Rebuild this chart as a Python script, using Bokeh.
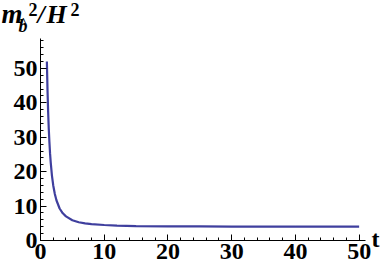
from bokeh.plotting import figure
from bokeh.models import Range1d, Label, SingleIntervalTicker
from bokeh.embed import file_html
from bokeh.resources import INLINE

# data
t = [1.0, 1.1, 1.2, 1.3, 1.4, 1.5, 1.6, 1.8, 2.0, 2.25, 2.5, 3.0, 3.5, 4.0, 5.0,
     6.0, 7.0, 8.0, 10.0, 12.0, 15.0, 20.0, 25.0, 30.0, 40.0, 50.0]
m2 = [52.0, 43.7, 37.3, 32.4, 28.5, 25.3, 22.8, 18.8, 16.0, 13.5, 11.7, 9.3, 7.9, 7.0, 5.9,
      5.3, 5.0, 4.75, 4.5, 4.35, 4.2, 4.1, 4.08, 4.05, 4.03, 4.02]

X_MAX = 51.0
Y_MAX = 58.7

# axis geometry (page pixels)
FL, FR, FT, FB = 40, 365, 38, 240
W, H = 381, 269

def dx(px):
    return (px - FL) / (FR - FL) * X_MAX

def dy(py):
    return (FB - py) / (FB - FT) * Y_MAX

p = figure(width=W, height=H, output_backend="svg", toolbar_location=None,
           x_range=Range1d(dx(0), dx(W)), y_range=Range1d(dy(H), dy(0)),
           min_border=0)
p.outline_line_color = None
p.grid.visible = False
p.background_fill_color = "white"
p.border_fill_color = "white"

for ax, b in ((p.xaxis[0], (0, X_MAX)), (p.yaxis[0], (0, Y_MAX))):
    ax.fixed_location = 0
    ax.bounds = b
    ax.ticker = SingleIntervalTicker(interval=10, num_minor_ticks=5)
    ax.major_tick_in = 6
    ax.major_tick_out = 0
    ax.minor_tick_in = 3
    ax.minor_tick_out = 0
    ax.axis_line_color = "black"
    ax.major_tick_line_color = "black"
    ax.minor_tick_line_color = "black"
    ax.major_label_text_font = "Liberation Serif"
    ax.major_label_text_font_style = "bold"
    ax.major_label_text_font_size = "24px"
    ax.major_label_text_color = "black"
    ax.major_label_standoff = 3

p.line(t, m2, line_color="#3f3f9e", line_width=2.2)

font = "Liberation Serif"
def lab(txt, px, py, size, style="bold italic"):
    p.add_layout(Label(x=dx(px), y=dy(py), text=txt, text_font=font,
                       text_font_style=style, text_font_size=size,
                       text_baseline="alphabetic", text_align="left",
                       text_color="black"))

lab("m", 1, 13, "27px")
lab("b", 18, 25, "18px")
lab("^", 19, 21, "13px", "bold")
lab("2", 28, 9, "18px", "bold")
lab("/", 37, 14, "26px")
lab("H", 46, 14, "26px")
lab("2", 70, 9, "18px", "bold")
lab("t", 371, 238, "24px", "bold")

open("out.html", "w").write(file_html(p, INLINE))
